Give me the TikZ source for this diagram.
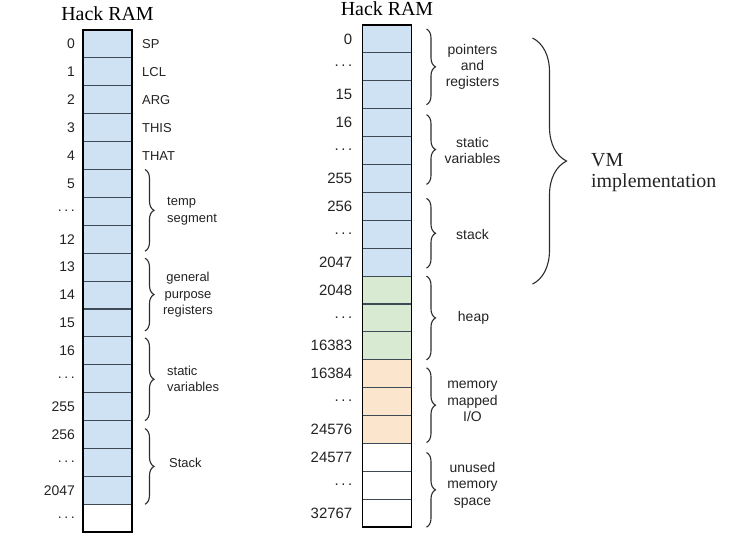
\documentclass[tikz,border=0pt]{standalone}
\usepackage{fontspec}
\setmainfont{Liberation Sans}
\newfontfamily\titlefont{Liberation Serif}
\usetikzlibrary{decorations.pathreplacing,calc}
\definecolor{cellblue}{RGB}{207,226,243}
\definecolor{cellgreen}{RGB}{217,234,211}
\definecolor{cellorange}{RGB}{252,229,205}
\definecolor{cellline}{RGB}{62,74,86}
\definecolor{bracecol}{RGB}{45,45,45}
\definecolor{txtcol}{RGB}{35,35,35}
\newcommand\mydots{\raisebox{1.5pt}{.\hspace{2.6pt}.\hspace{2.6pt}.}}
\tikzset{
  cell/.style={draw=cellline, line width=1.1bp, minimum width=49bp, minimum height=27.9bp, inner sep=0pt, outer sep=0pt},
  outerbox/.style={draw=black, line width=1.5bp},
  numL/.style={anchor=east, inner sep=0pt, text=txtcol, font=\fontsize{14}{16}\selectfont},
  numR/.style={anchor=east, inner sep=0pt, text=txtcol, font=\fontsize{15}{17}\selectfont},
  regname/.style={anchor=west, inner sep=0pt, text=txtcol, font=\fontsize{13}{16}\selectfont},
  grpL/.style={inner sep=0pt, text=txtcol, font=\fontsize{13}{16.5}\selectfont},
  grpR/.style={inner sep=0pt, text=txtcol, align=center, font=\fontsize{14}{16.5}\selectfont},
  title/.style={anchor=base, inner sep=0pt, text=black, font=\titlefont\fontsize{20}{22}\selectfont},
  smallbrace/.style={draw=bracecol, line width=1.1bp, decorate, decoration={brace, amplitude=9bp}},
  bigbrace/.style={draw=bracecol, line width=1.1bp, decorate, decoration={brace, amplitude=34bp}},
}
\begin{document}
\begin{tikzpicture}[x=1bp,y=-1bp]
\useasboundingbox (0,0) rectangle (750,547);
\fill[white] (0,0) rectangle (750,547);

% ---------- left column ----------
\node[title] (tl) at (107.5,20.5) {Hack RAM};
\foreach \i in {0,...,17}{
  \ifnum\i<17 \def\fc{cellblue}\else\def\fc{white}\fi
  \node[cell, fill=\fc] (L\i) at (107.5,{30+27.9*(\i+0.5)}) {};
}
\draw[outerbox] (L0.north west) rectangle (L17.south east);
\foreach \t [count=\k from 0] in {0,1,2,3,4,5,\mydots,12,13,14,15,16,\mydots,255,256,\mydots,2047,\mydots}{
  \node[numL] (nl\k) at ($(L\k.west)+(-8,0)$) {\t};
}
\foreach \t [count=\k from 0] in {SP,LCL,ARG,THIS,THAT}{
  \node[regname] (rn\k) at ($(L\k.east)+(10,0)$) {\t};
}
\draw[smallbrace] ($(L5.north east)+(13,0)$) -- ($(L7.south east)+(13,-2)$);
\draw[smallbrace] ($(L8.north east)+(13,5)$) -- ($(L10.south east)+(13,-6)$);
\draw[smallbrace] ($(L11.north east)+(13,1)$) -- ($(L13.south east)+(13,0)$);
\draw[smallbrace] ($(L14.north east)+(13,8)$) -- ($(L16.south east)+(13,0)$);
\node[grpL, anchor=west, align=left] (gtemp) at ($(L6.east)+(35,0)$) {temp\\segment};
\node[grpL, align=center] (ggen) at ($(L9.east)+(56,0)$) {general\\purpose\\registers};
\node[grpL, anchor=west, align=left] (gstat) at ($(L12.east)+(35,0)$) {static\\variables};
\node[grpL, anchor=west] (gstack) at ($(L15.east)+(37,0)$) {Stack};

% ---------- right column ----------
\node[title] (tr) at (387,15.5) {Hack RAM};
\foreach \i in {0,...,17}{
  \ifnum\i<9 \def\fc{cellblue}\else
    \ifnum\i<12 \def\fc{cellgreen}\else
      \ifnum\i<15 \def\fc{cellorange}\else \def\fc{white}\fi\fi\fi
  \node[cell, fill=\fc] (R\i) at (387,{25+27.9*(\i+0.5)}) {};
}
\draw[outerbox] (R0.north west) rectangle (R17.south east);
\foreach \t [count=\k from 0] in {0,\mydots,15,16,\mydots,255,256,\mydots,2047,2048,\mydots,16383,16384,\mydots,24576,24577,\mydots,32767}{
  \node[numR] (nr\k) at ($(R\k.west)+(-10,0)$) {\t};
}
\draw[smallbrace] ($(R0.north east)+(15,4)$) -- ($(R2.south east)+(15,-4)$);
\draw[smallbrace] ($(R3.north east)+(15,6)$) -- ($(R5.south east)+(15,-8)$);
\draw[smallbrace] ($(R6.north east)+(15,6)$) -- ($(R8.south east)+(15,-8)$);
\draw[smallbrace] ($(R9.north east)+(15,0)$) -- ($(R11.south east)+(15,0)$);
\draw[smallbrace] ($(R12.north east)+(15,8)$) -- ($(R14.south east)+(15,-1)$);
\draw[smallbrace] ($(R15.north east)+(15,9)$) -- ($(R17.south east)+(15,0)$);
\node[grpR] (gptr) at ($(R1.east)+(61,0)$) {pointers\\and\\registers};
\node[grpR] (gsv) at ($(R4.east)+(61,0)$) {static\\variables};
\node[grpR] (gstk) at ($(R7.east)+(61,0)$) {stack};
\node[grpR] (ghp) at ($(R10.east)+(62,0)$) {heap};
\node[grpR] (gmm) at ($(R13.east)+(61,0)$) {memory\\mapped\\I/O};
\node[grpR] (gun) at ($(R16.east)+(61,0)$) {unused\\memory\\space};

% ---------- VM brace ----------
\coordinate (vmtop) at ($(R0.north east)+(121,13)$);
\coordinate (vmbot) at ($(R9.north east)+(121,8)$);
\draw[bigbrace] (vmtop) -- (vmbot);
\node[inner sep=0pt, anchor=west, align=left, text=txtcol, font=\titlefont\fontsize{20}{21}\selectfont] (vm) at (591,172.5) {VM\\implementation};
\end{tikzpicture}
\end{document}
